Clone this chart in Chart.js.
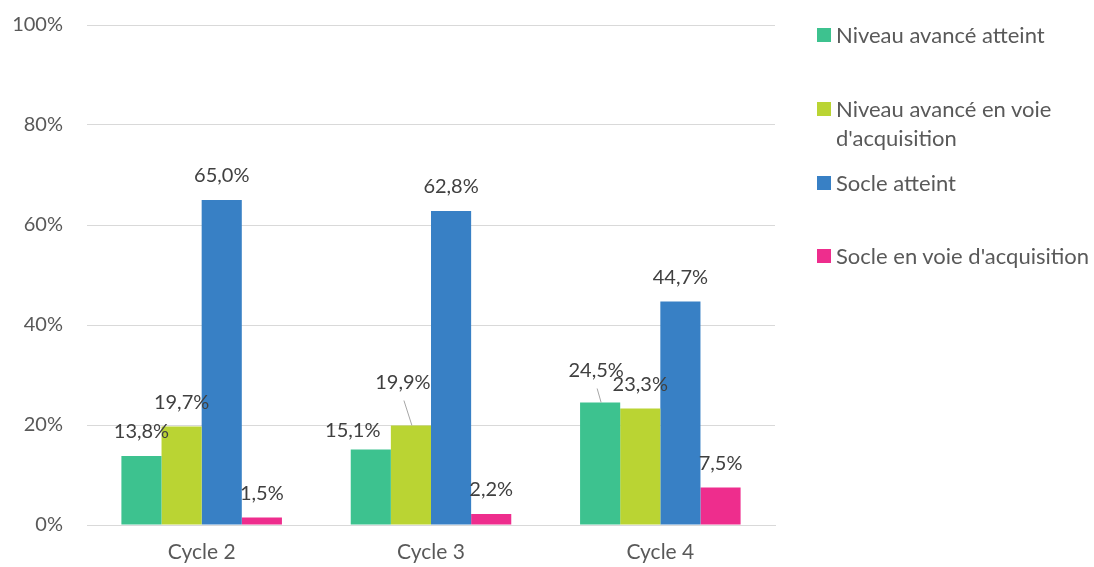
<!DOCTYPE html>
<html>
<head>
<meta charset="utf-8">
<script src="https://cdn.jsdelivr.net/npm/chart.js@4/dist/chart.umd.min.js"></script>
<style>
  html, body { margin: 0; padding: 0; background: #fff; }
  #wrap { position: relative; width: 1094px; height: 567px; }
  #legend { position: absolute; left: 817px; top: 20px; font-family: Lato, "Open Sans", sans-serif; font-size: 22px; color: #595959; }
  .item { position: relative; padding-left: 19px; line-height: 29px; width: 277px; }
  .item span.box { position: absolute; left: 0; top: 8px; width: 14px; height: 14px; }
</style>
</head>
<body>
<div id="wrap">
  <canvas id="myChart" width="1094" height="567"></canvas>
  <div id="legend"></div>
</div>
<script>
var categories = ['Cycle 2', 'Cycle 3', 'Cycle 4'];
var series = ['Niveau avancé atteint', "Niveau avancé en voie d'acquisition", 'Socle atteint', "Socle en voie d'acquisition"];
var avanceAtteint = [13.8, 15.1, 24.5];
var avanceEnVoie = [19.7, 19.9, 23.3];
var socleAtteint = [65.0, 62.8, 44.7];
var socleEnVoie = [1.5, 2.2, 7.5];
var yTicks = [0, 20, 40, 60, 80, 100];

var colors = ['#3DC28F', '#BAD433', '#3880C5', '#EE2D8D'];
var allValues = [avanceAtteint, avanceEnVoie, socleAtteint, socleEnVoie];
var font = 'Lato, "Open Sans", sans-serif';

// label nudges [dx, dy] per series / category, like the hand placed ones in the original
var nudges = [
  [[0, 0], [-18, 5], [-4, -8]],
  [[0, 0], [-8, -19], [0, 0]],
  [[0, 0], [0, 0], [0, 0]],
  [[0, 0], [0, 0], [0, 0]]
];
// leader lines: [series, category]
var leaders = [[1, 1], [0, 2]];

var datasets = [];
for (var s = 0; s < series.length; s++) {
  datasets.push({
    label: series[s],
    data: allValues[s],
    backgroundColor: colors[s],
    borderWidth: 0
  });
}

var fmt = function(v) { return v.toFixed(1).replace('.', ',') + '%'; };

var valueLabels = {
  id: 'valueLabels',
  afterDatasetsDraw: function(chart) {
    var ctx = chart.ctx;
    ctx.save();
    ctx.font = '20px ' + font;
    ctx.fillStyle = '#404040';
    ctx.textAlign = 'center';
    ctx.textBaseline = 'middle';
    chart.data.datasets.forEach(function(ds, i) {
      var meta = chart.getDatasetMeta(i);
      meta.data.forEach(function(bar, j) {
        var n = nudges[i][j];
        var x = bar.x + n[0];
        var y = bar.y - 24 + n[1];
        var isLeader = leaders.some(function(l) { return l[0] === i && l[1] === j; });
        if (isLeader) {
          ctx.strokeStyle = '#a6a6a6';
          ctx.lineWidth = 1;
          ctx.beginPath();
          ctx.moveTo(x + 1, y + 18);
          ctx.lineTo(bar.x + 1, bar.y);
          ctx.stroke();
        }
        ctx.fillText(fmt(ds.data[j]), x, y);
      });
    });
    ctx.restore();
  }
};

var ctx = document.getElementById('myChart').getContext('2d');
var chart = new Chart(ctx, {
  type: 'bar',
  data: { labels: categories, datasets: datasets },
  plugins: [valueLabels],
  options: {
    responsive: false,
    animation: false,
    layout: { padding: { top: 25, right: 319, bottom: 0, left: 0 } },
    plugins: { legend: { display: false }, tooltip: { enabled: false } },
    datasets: { bar: { categoryPercentage: 0.7, barPercentage: 1.0 } },
    scales: {
      x: {
        grid: { display: false },
        border: { display: true, color: '#d9d9d9', width: 1 },
        ticks: { color: '#595959', font: { family: font, size: 21 }, padding: 7 },
        afterFit: function(scale) { scale.height = 42; }
      },
      y: {
        min: 0, max: 100,
        afterBuildTicks: function(scale) { scale.ticks = yTicks.map(function(v) { return { value: v }; }); },
        grid: { color: '#d9d9d9', lineWidth: 1, drawTicks: false },
        border: { display: false },
        ticks: {
          color: '#595959',
          font: { family: font, size: 20 },
          padding: 24,
          callback: function(v) { return v + '%'; }
        },
        afterFit: function(scale) { scale.width = 87; scale.paddingTop = 0; scale.paddingBottom = 0; }
      }
    }
  }
});

var legend = document.getElementById('legend');
var gaps = [0, 45, 16, 44];
series.forEach(function(name, i) {
  var div = document.createElement('div');
  div.className = 'item';
  div.style.marginTop = gaps[i] + 'px';
  div.innerHTML = '<span class="box" style="background:' + colors[i] + '"></span>' + name;
  legend.appendChild(div);
});
</script>
</body>
</html>
